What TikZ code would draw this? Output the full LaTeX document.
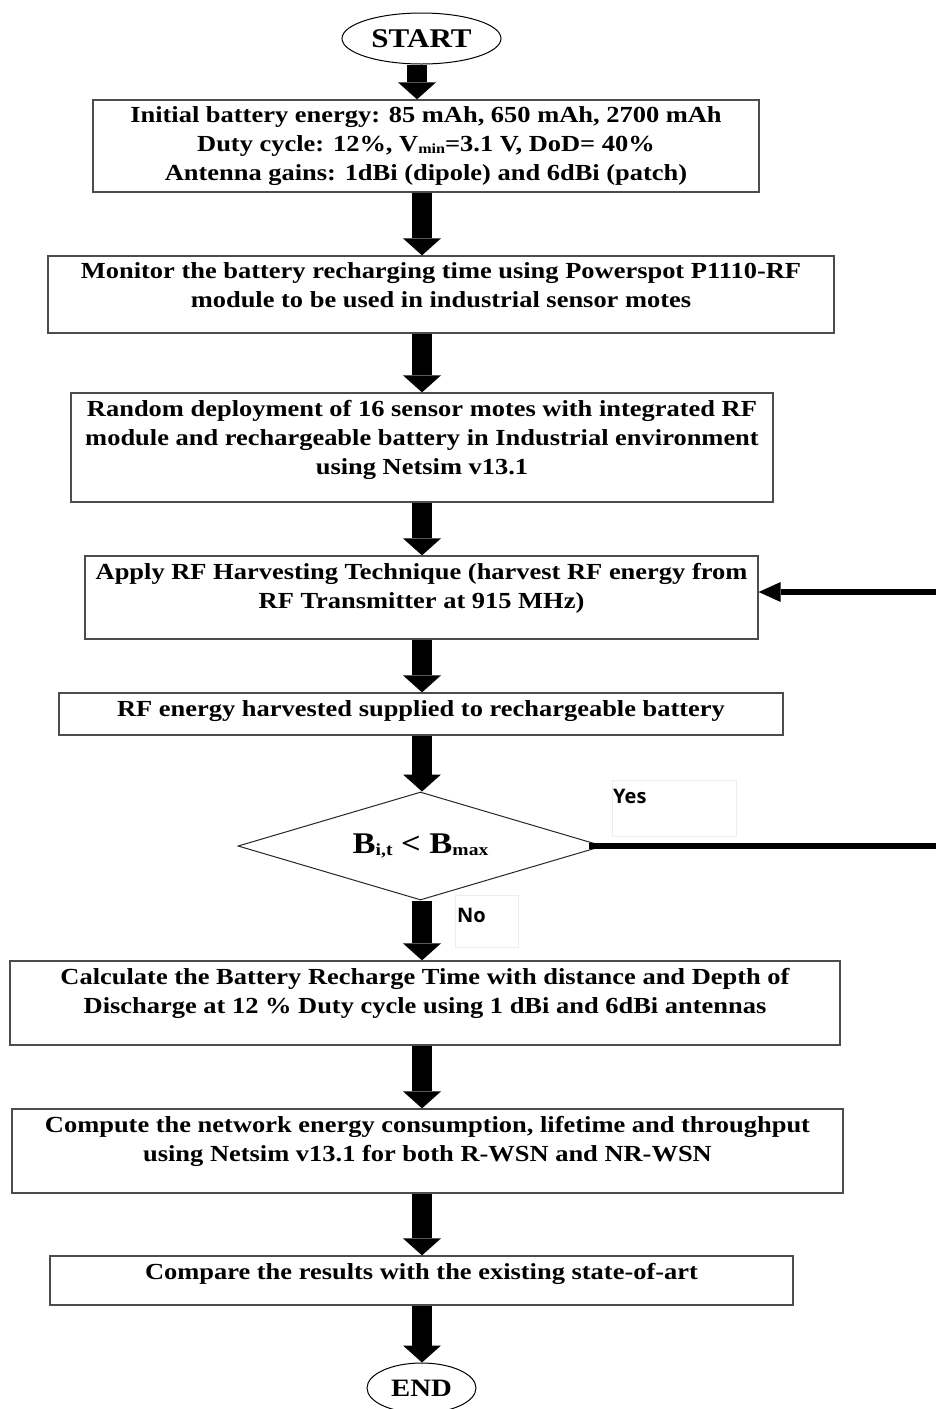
\documentclass[tikz,border=0pt]{standalone}
\usepackage{fontspec}
\setmainfont{Liberation Serif}[FakeStretch=1.15]
\newfontfamily\labelfont{Open Sans}
\usetikzlibrary{shapes.geometric,arrows.meta}
\begin{document}
\begin{tikzpicture}[x=1pt,y=-1pt,
  box/.style={draw=black!70,line width=1.3pt,inner sep=0pt},
  boxtext/.style={anchor=north,inner sep=0pt,align=center,font=\fontsize{23}{29}\selectfont\bfseries},
  term/.style={ellipse,draw=black,line width=1pt,inner sep=0pt},
  flow/.style={line width=20pt,-{Triangle[width=38pt,length=17pt,line width=0pt]}},
  loopend/.style={line width=6pt,-{Triangle[width=20pt,length=22pt,line width=0pt]}},
  faintbox/.style={draw=black!7,line width=0.8pt,inner sep=0pt},
  yesno/.style={font=\labelfont\bfseries\fontsize{20}{24}\selectfont,inner sep=0pt}
]
\useasboundingbox (0,0) rectangle (936,1409);

% terminals
\node[term,minimum width=159pt,minimum height=51pt,font=\fontsize{27}{30}\selectfont\bfseries] (start) at (421.5,38.5) {START};
\node[term,minimum width=109pt,minimum height=50pt,font=\fontsize{25}{30}\selectfont\bfseries] (end) at (421.5,1388) {END};

% process boxes
\node[box,minimum width=666pt,minimum height=92pt] (b1) at (426,146) {};
\node[box,minimum width=786pt,minimum height=77pt] (b2) at (441,294.5) {};
\node[box,minimum width=702pt,minimum height=109pt] (b3) at (422,447.5) {};
\node[box,minimum width=673pt,minimum height=83pt] (b4) at (421.5,597.5) {};
\node[box,minimum width=724pt,minimum height=42pt] (b5) at (421,714) {};
\node[box,minimum width=830pt,minimum height=84pt] (b6) at (425,1003) {};
\node[box,minimum width=831pt,minimum height=84pt] (b7) at (427.5,1151) {};
\node[box,minimum width=743pt,minimum height=49pt] (b8) at (421.5,1280.5) {};

% box texts
\node[boxtext] (t1) at ([yshift=-7pt]b1.north) {Initial battery energy: 85 mAh, 650 mAh, 2700 mAh\\
  Duty cycle: 12\%, V{\fontsize{14}{14}\selectfont\raisebox{-1.5pt}{min}}=3.1 V, DoD= 40\%\\
  Antenna gains: 1dBi (dipole) and 6dBi (patch)};
\node[boxtext] (t2) at ([yshift=-7pt]b2.north) {Monitor the battery recharging time using Powerspot P1110-RF\\
  module to be used in industrial sensor motes};
\node[boxtext] (t3) at ([yshift=-8pt]b3.north) {Random deployment of 16 sensor motes with integrated RF\\
  module and rechargeable battery in Industrial environment\\
  using Netsim v13.1};
\node[boxtext] (t4) at ([yshift=-8pt]b4.north) {Apply RF Harvesting Technique (harvest RF energy from\\
  RF Transmitter at 915 MHz)};
\node[boxtext] (t5) at ([yshift=-8pt]b5.north) {RF energy harvested supplied to rechargeable battery};
\node[boxtext] (t6) at ([yshift=-8pt]b6.north) {Calculate the Battery Recharge Time with distance and Depth of\\
  Discharge at 12 \% Duty cycle using 1 dBi and 6dBi antennas};
\node[boxtext] (t7) at ([yshift=-8pt]b7.north) {Compute the network energy consumption, lifetime and throughput\\
  using Netsim v13.1 for both R-WSN and NR-WSN};
\node[boxtext] (t8) at ([yshift=-8pt]b8.north) {Compare the results with the existing state-of-art};

% decision
\node[diamond,aspect=3.4,draw=black!85,line width=1pt,minimum width=365pt,minimum height=108pt,inner sep=0pt,
  font=\fontsize{30}{30}\selectfont\bfseries] (d) at (420.5,846)
  {\raisebox{-3pt}{B\raisebox{-2pt}{\fontsize{17}{17}\selectfont i,t} < B\raisebox{-2pt}{\fontsize{17}{17}\selectfont max}}};

% branch labels
\node[faintbox,minimum width=124pt,minimum height=56pt,anchor=north west] (yesbox) at (612,780) {};
\node[yesno,anchor=base west] (yes) at (613,803) {Yes};
\node[faintbox,minimum width=63pt,minimum height=52pt,anchor=north west] (nobox) at (455,895) {};
\node[yesno,anchor=base west] (no) at (457,922) {No};

% main flow
\coordinate (ax0) at (417,0);
\coordinate (ax) at (422,0);
\draw[flow] (start.south -| ax0) -- (b1.north -| ax0);
\draw[flow] (b1.south -| ax) -- (b2.north -| ax);
\draw[flow] (b2.south -| ax) -- (b3.north -| ax);
\draw[flow] (b3.south -| ax) -- (b4.north -| ax);
\draw[flow] (b4.south -| ax) -- (b5.north -| ax);
\draw[flow] (b5.south -| ax) -- (d.north -| ax);
\draw[flow] (d.south -| ax) -- (b6.north -| ax);
\draw[flow] (b6.south -| ax) -- (b7.north -| ax);
\draw[flow] (b7.south -| ax) -- (b8.north -| ax);
\draw[flow] (b8.south -| ax) -- (end.north -| ax);

% loop back while the battery is not full
\coordinate (fb) at (942,592);
\draw[loopend] ([xshift=-15pt]d.east) -- (d.east -| fb) -- (fb) -- (b4.east |- fb);
\end{tikzpicture}
\end{document}
